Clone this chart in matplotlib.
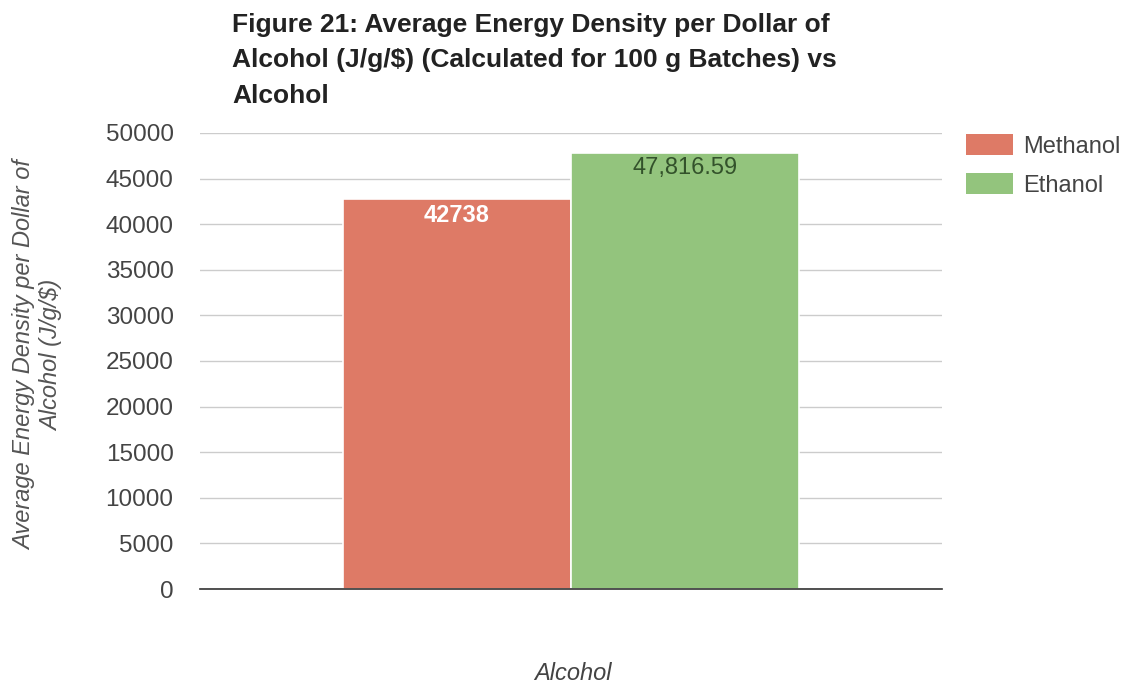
import matplotlib.pyplot as plt
from matplotlib.patches import Patch

alcohols = ['Methanol', 'Ethanol']
values = [42738, 47816.59]
value_labels = ['42738', '47,816.59']
colors = ['#de7a66', '#93c47d']
yticks = list(range(0, 50001, 5000))

plt.rcParams['font.family'] = ['Liberation Sans', 'DejaVu Sans']

fig = plt.figure(figsize=(11.26, 6.88), dpi=100)
ax = fig.add_axes([200/1126, 1-589/688, 742/1126, 456/688])

w = 0.615
xs = [-w/2, w/2]
ax.bar(xs, values, width=w, color=colors, edgecolor='white', linewidth=1.2, zorder=3)

# value labels just inside the bar tops
ax.annotate(value_labels[0], (xs[0], values[0]), xytext=(0, -12), textcoords='offset points',
            ha='center', va='center', color='white', fontsize=17, fontweight='bold', zorder=4)
ax.annotate(value_labels[1], (xs[1], values[1]), xytext=(0, -11), textcoords='offset points',
            ha='center', va='center', color='#33522b', fontsize=17, zorder=4)

ax.set_xlim(-1, 1)
ax.set_ylim(0, 50000)
ax.set_yticks(yticks)
ax.set_yticklabels([str(t) for t in yticks], fontsize=17.5, color='#444444')
ax.set_xticks([])
ax.tick_params(axis='y', length=0, pad=19)
ax.grid(axis='y', color='#cccccc', linewidth=1, zorder=0)
for s in ['top', 'right', 'left']:
    ax.spines[s].set_visible(False)
ax.spines['bottom'].set_color('#333333')
ax.spines['bottom'].set_linewidth(1.2)
ax.spines['bottom'].set_zorder(5)

fig.text(38/1126, 1-355/688, 'Average Energy Density per Dollar of\nAlcohol (J/g/\\$)',
         rotation=90, ha='center', va='center', fontsize=17, style='italic',
         color='#555555', linespacing=1.25)
fig.text(573/1126, 1-674/688, 'Alcohol', ha='center', va='center', fontsize=17,
         style='italic', color='#444444')

fig.text(232/1126, 1-13/688,
         'Figure 21: Average Energy Density per Dollar of\n'
         'Alcohol (J/g/\\$) (Calculated for 100 g Batches) vs\nAlcohol',
         ha='left', va='top', fontsize=19, fontweight='bold', color='#222222',
         linespacing=1.6)

handles = [Patch(facecolor=c, edgecolor='none') for c in colors]
fig.legend(handles, alcohols, loc='upper left', bbox_to_anchor=(966/1126, 1-134/688),
           frameon=False, fontsize=17, handlelength=2.0, handleheight=1.0,
           labelspacing=0.65, handletextpad=0.42, borderpad=0, borderaxespad=0,
           labelcolor='#444444')

fig.savefig('out.png', dpi=100)
